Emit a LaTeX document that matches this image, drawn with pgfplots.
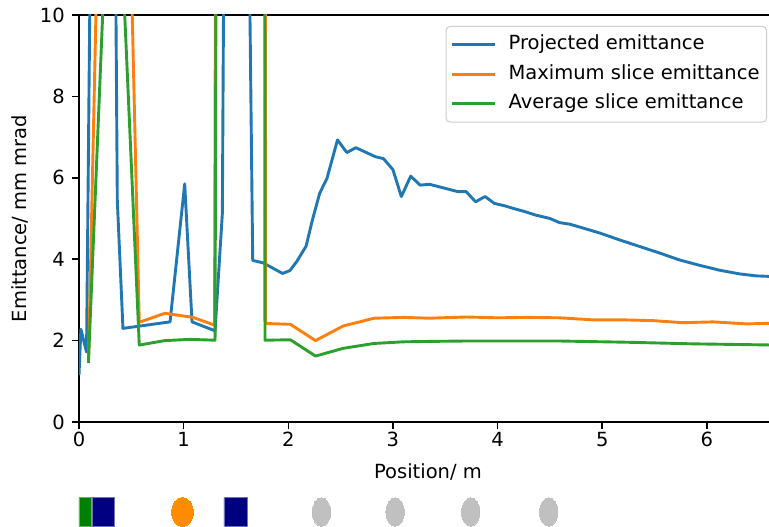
\documentclass[border=0pt]{standalone}
\usepackage{fontspec}
\setmainfont{DejaVu Sans}
\usepackage{pgfplots}
\pgfplotsset{compat=1.18}

\definecolor{mplblue}{HTML}{1F77B4}
\definecolor{mplorange}{HTML}{FF7F0E}
\definecolor{mplgreen}{HTML}{2CA02C}
\definecolor{elgreen}{HTML}{008000}
\definecolor{elnavy}{HTML}{000080}
\definecolor{elorange}{HTML}{FF8C00}
\definecolor{elgray}{HTML}{C0C0C0}

\newcommand{\figfont}{\fontsize{19.5}{23}\selectfont}

\begin{document}
\begin{tikzpicture}
\begin{axis}[
  name=main,
  at={(0,0)}, anchor=south west,
  scale only axis, width=698pt, height=407pt,
  xmin=0, xmax=6.67, ymin=0, ymax=10,
  xtick={0,1,2,3,4,5,6}, ytick={0,2,4,6,8,10},
  axis x line*=box, axis y line*=left,
  xtick pos=bottom, ytick pos=left,
  xticklabel pos=lower, yticklabel pos=left,
  tick align=outside, major tick length=6.8pt,
  axis line style={line width=1.56pt, black},
  tick style={line width=1.56pt, black},
  /pgf/number format/assume math mode=true,
  tick label style={font=\figfont},
  yticklabel style={xshift=-4pt},
  label style={font=\figfont},
  xlabel={Position/ m},
  ylabel={Emittance/ mm mrad},
  xlabel style={yshift=-10pt},
  ylabel style={yshift=5pt},
  legend cell align=left,
  legend image code/.code={\draw[#1] (0pt,0pt) -- (42.7pt,0pt);},
  legend style={
    at={(axis description cs:0.9857,0.973)}, anchor=north east,
    draw=black!20, line width=1pt, rounded corners=4pt, fill=white,
    font=\figfont, inner xsep=5pt, inner ysep=6.8pt,
    row sep=6.5pt, column sep=10pt,
    nodes={inner sep=2pt, text height=14.5pt, text depth=4.5pt}},
  every axis plot/.append style={line width=2.9pt, line join=round},
]
% projected emittance
\addplot[mplblue] coordinates {
 (0.000,1.15) (0.018,2.28) (0.072,1.72) (0.110,12) (0.345,13) (0.366,5.45)
 (0.420,2.30) (0.870,2.46) (1.010,5.85) (1.080,2.46) (1.300,2.24) (1.370,5.13)
 (1.385,12) (1.625,12) (1.660,3.97) (1.760,3.91) (1.945,3.65) (2.015,3.72)
 (2.080,3.94) (2.170,4.32) (2.230,4.96) (2.300,5.62) (2.370,5.99) (2.470,6.93)
 (2.560,6.62) (2.645,6.74) (2.730,6.64) (2.830,6.52) (2.910,6.47) (3.000,6.20)
 (3.080,5.54) (3.170,6.04) (3.260,5.82) (3.350,5.84) (3.440,5.78) (3.530,5.72)
 (3.620,5.66) (3.700,5.66) (3.790,5.41) (3.880,5.54) (3.970,5.37) (4.070,5.31)
 (4.160,5.24) (4.260,5.17) (4.355,5.09) (4.500,5.00) (4.590,4.90) (4.690,4.86)
 (4.785,4.79) (4.980,4.64) (5.170,4.47) (5.360,4.31) (5.550,4.15) (5.740,3.98)
 (5.930,3.85) (6.120,3.73) (6.310,3.64) (6.470,3.59) (6.670,3.57)
};
\addlegendentry{Projected emittance}
% maximum slice emittance
\addplot[mplorange] coordinates {
 (0.092,1.60) (0.170,11) (0.500,11) (0.576,2.45) (0.820,2.67) (1.090,2.57)
 (1.295,2.38) (1.305,12) (1.780,12) (1.785,2.42) (2.020,2.40) (2.260,2.00)
 (2.525,2.36) (2.820,2.55) (3.100,2.57) (3.350,2.55) (3.700,2.58) (4.000,2.56)
 (4.300,2.57) (4.590,2.56) (4.910,2.51) (5.200,2.51) (5.490,2.49) (5.770,2.44)
 (6.060,2.46) (6.380,2.41) (6.670,2.43)
};
\addlegendentry{Maximum slice emittance}
% average slice emittance
\addplot[mplgreen] coordinates {
 (0.090,1.45) (0.250,11.5) (0.420,11) (0.576,1.89) (0.820,2.00) (1.060,2.03)
 (1.300,2.01) (1.310,12) (1.775,12) (1.777,2.01) (2.020,2.02) (2.260,1.62)
 (2.525,1.81) (2.820,1.93) (3.100,1.97) (3.350,1.98) (3.700,1.99) (4.000,1.99)
 (4.590,1.99) (5.230,1.96) (5.870,1.92) (6.670,1.89)
};
\addlegendentry{Average slice emittance}
\end{axis}

% beamline elements along the same position scale
\begin{axis}[
  at={(0,-104.5pt)}, anchor=south west,
  scale only axis, width=698pt, height=29pt,
  xmin=0, xmax=6.67, ymin=0, ymax=1,
  hide axis, clip=false,
]
\addplot[fill=elgreen, draw=elgreen!60, line width=0.6pt] coordinates {(0,0) (0.12,0) (0.12,1) (0,1) (0,0)};
\addplot[fill=elnavy, draw=elnavy!55, line width=0.6pt] coordinates {(0.127,0) (0.337,0) (0.337,1) (0.127,1) (0.127,0)};
\addplot[fill=elnavy, draw=elnavy!55, line width=0.6pt] coordinates {(1.385,0) (1.608,0) (1.608,1) (1.385,1) (1.385,0)};
\addplot[elorange, only marks, mark=*, mark size=14.5pt,
  mark options={fill=elorange, draw=elorange, line width=0pt, xscale=0.748}] coordinates {(0.989,0.5)};
\addplot[elgray, only marks, mark=*, mark size=14.2pt,
  mark options={fill=elgray, draw=elgray, line width=0pt, xscale=0.645}] coordinates {(2.317,0.5) (3.021,0.5) (3.743,0.5) (4.488,0.5)};
\end{axis}

\pgfresetboundingbox
\path[use as bounding box] (-79pt,-105pt) rectangle (690pt,422pt);
\end{tikzpicture}
\end{document}
